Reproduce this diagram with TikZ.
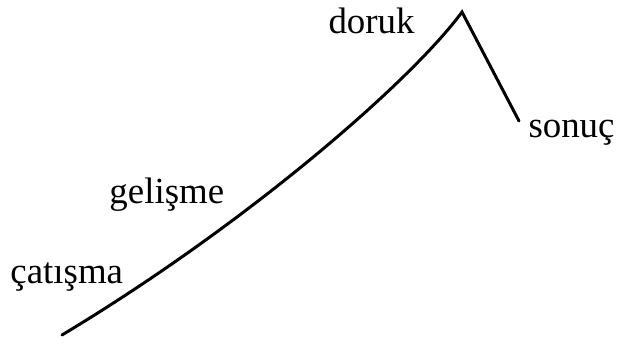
\documentclass[tikz,border=0pt]{standalone}
\usepackage{fontspec}
\setmainfont{Liberation Serif}
\begin{document}
\begin{tikzpicture}[x=1bp,y=-1bp,line width=3pt,
  line cap=round,line join=miter,font=\fontsize{37}{40}\selectfont,
  stage/.style={inner sep=0pt,anchor=base west}]
  \useasboundingbox (0,0) rectangle (619,343);
  % the plot line: rising curve, peak, falling end.
  \coordinate (start) at (62,335);
  \coordinate (peak) at (462,12);
  \coordinate (end) at (519,121);
  \draw (start) .. controls (250,222) and (412,80) .. (peak) -- (end);
  % stage names.
  \node[stage] (catisma) at (9,283) {çatışma};
  \node[stage] (gelisme) at (108,203) {gelişme};
  \node[stage] (doruk) at (327,33) {doruk};
  \node[stage] (sonuc) at (527,137) {sonuç};
\end{tikzpicture}
\end{document}
